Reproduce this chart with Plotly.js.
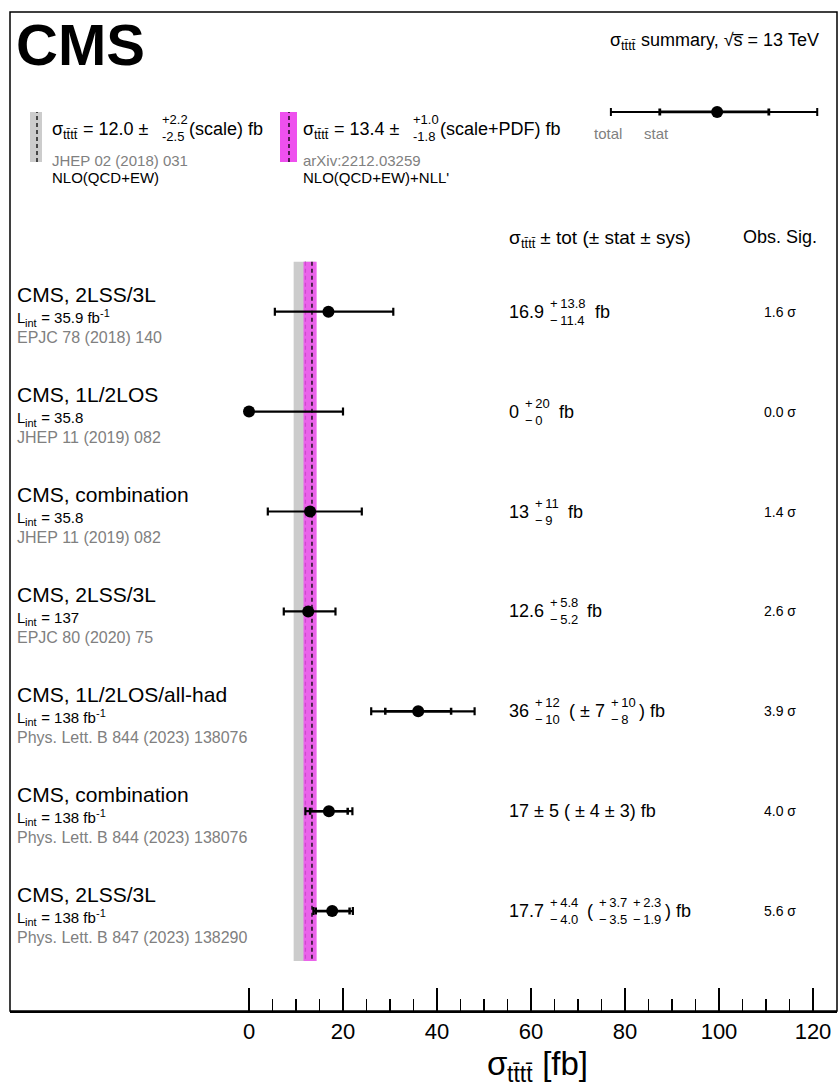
<!DOCTYPE html>
<html><head><meta charset="utf-8">
<script src="https://cdn.plot.ly/plotly-3.0.1.min.js"></script>
<style>body{margin:0;background:#fff}</style>
</head><body><div id="chart" style="width:839px;height:1088px"></div>
<script>
// ---------------- data ----------------
const analyses = ["CMS, 2LSS/3L", "CMS, 1L/2LOS", "CMS, combination", "CMS, 2LSS/3L",
                  "CMS, 1L/2LOS/all-had", "CMS, combination", "CMS, 2LSS/3L"];
const lumiVals = ["35.9", "35.8", "35.8", "137", "138", "138", "138"];
const lumiUnit = [true, false, false, false, true, true, true];
const refs = ["EPJC 78 (2018) 140", "JHEP 11 (2019) 082", "JHEP 11 (2019) 082", "EPJC 80 (2020) 75",
              "Phys. Lett. B 844 (2023) 138076", "Phys. Lett. B 844 (2023) 138076", "Phys. Lett. B 847 (2023) 138290"];
const rowPos = [1, 2, 3, 4, 5, 6, 7];
const xsec   = [16.9, 0, 13, 12.6, 36, 17, 17.7];
const totUp  = [13.8, 20, 11, 5.8, 12, 5, 4.4];
const totDn  = [11.4, 0, 9, 5.2, 10, 5, 4.0];
const statUp = [null, null, null, null, 7, 4, 3.7];
const statDn = [null, null, null, null, 7, 4, 3.5];
const sysUp  = [null, null, null, null, 10, 3, 2.3];
const sysDn  = [null, null, null, null, 8, 3, 1.9];
const prec   = [1, 0, 0, 1, 0, 0, 1];
const obsSig = [1.6, 0.0, 1.4, 2.6, 3.9, 4.0, 5.6];

const theoryCentral = [12.0, 13.4];
const theoryUp = [2.2, 1.0];
const theoryDn = [2.5, 1.8];
const theoryUnc = ["scale", "scale+PDF"];
const theoryRef = ["JHEP 02 (2018) 031", "arXiv:2212.03259"];
const theoryOrder = ["NLO(QCD+EW)", "NLO(QCD+EW)+NLL'"];

const legendX = [99.6], legendY = [-1];
const legendTotUp = [21.3], legendTotDn = [22.6];
const legendStatUp = [11.0], legendStatDn = [12.2];

const xTicks = [0, 20, 40, 60, 80, 100, 120];
const xMinorTicks = [5,10,15,25,30,35,45,50,55,65,70,75,85,90,95,105,110,115];

// ---------------- geometry helpers ----------------
const W = 839, H = 1088, ML = 10, MR = 2, MT = 12, MB = 77;
const PW = W - ML - MR, PH = H - MT - MB;
const YTOP = -2, YBOT = 8;
const px = p => (p - ML) / PW;
const py = p => (H - MB - p) / PH;
const rowPix = v => MT + (v - YTOP) / (YBOT - YTOP) * PH;
const FONT = '"Liberation Sans", Arial, Helvetica, sans-serif';
const TTTT = 't' + 't\u0304' + 't' + 't\u0304';
const SIG = [{ t: 'σ' }, { t: TTTT, sub: true }];
const TS = '\u2009';

const ctx = document.createElement('canvas').getContext('2d');
function tw(t, size, bold) { ctx.font = (bold ? 'bold ' : '') + size + 'px "Liberation Sans"'; return ctx.measureText(t).width; }

const annotations = [];
function ann(text, x, y, size, color, weight) {
  annotations.push({
    text: text.replace(/ /g, '\u00a0'), x: px(x - 2), y: py(y), xref: 'paper', yref: 'paper',
    xanchor: 'left', yanchor: 'middle', showarrow: false,
    font: { family: FONT, size: size, color: color || 'black', weight: weight || 'normal' }
  });
}
function rich(segs, x0, yc, fs, color) {
  let x = x0;
  segs.forEach(s => {
    const size = (s.sub || s.sup) ? Math.round(fs * 0.7) : fs;
    const dy = s.sub ? fs * 0.33 : s.sup ? -fs * 0.3 : 0;
    ann(s.t, x, yc + dy, size, color);
    x += tw(s.t, size);
  });
  return x;
}
function layoutTokens(tokens, x0, yc, mainFs, stackFs, off) {
  const merged = [];
  tokens.forEach(t => {
    const last = merged[merged.length - 1];
    if (t.type === 'text' && last && last.type === 'text') last.text += t.text;
    else merged.push(Object.assign({}, t));
  });
  let x = x0;
  merged.forEach(t => {
    if (t.type === 'text') {
      ann(t.text, x, yc, mainFs);
      x += tw(t.text, mainFs);
    } else {
      ann(t.up, x + 1, yc - off, stackFs);
      ann(t.dn, x + 1, yc + off, stackFs);
      x += Math.max(tw(t.up, stackFs), tw(t.dn, stackFs)) + 5;
    }
  });
}

// ---------------- traces ----------------
const statIdx = rowPos.map((_, i) => i).filter(i => statUp[i] !== null);
const traces = [
  { type: 'scatter', mode: 'markers',
    x: statIdx.map(i => xsec[i]), y: statIdx.map(i => rowPos[i]),
    marker: { size: 1, color: 'rgba(0,0,0,0)' },
    error_x: { type: 'data', symmetric: false, array: statIdx.map(i => statUp[i]),
               arrayminus: statIdx.map(i => statDn[i]), color: 'black', thickness: 2.5, width: 3.5 },
    hoverinfo: 'skip', showlegend: false },
  { type: 'scatter', mode: 'markers', x: xsec, y: rowPos,
    marker: { size: 12, color: 'black' },
    error_x: { type: 'data', symmetric: false, array: totUp, arrayminus: totDn,
               color: 'black', thickness: 2.2, width: 4 },
    showlegend: false },
  { type: 'scatter', mode: 'markers', x: legendX, y: legendY,
    marker: { size: 1, color: 'rgba(0,0,0,0)' },
    error_x: { type: 'data', symmetric: false, array: legendStatUp, arrayminus: legendStatDn,
               color: 'black', thickness: 2.8, width: 3.5 },
    hoverinfo: 'skip', showlegend: false },
  { type: 'scatter', mode: 'markers', x: legendX, y: legendY,
    marker: { size: 12, color: 'black' },
    error_x: { type: 'data', symmetric: false, array: legendTotUp, arrayminus: legendTotDn,
               color: 'black', thickness: 2, width: 4 },
    showlegend: false }
];

// ---------------- shapes ----------------
const GRAY = '#cccccc', MAG = 'rgb(238,80,238)';
const shapes = [
  { type: 'rect', xref: 'x', yref: 'y', x0: theoryCentral[0] - theoryDn[0], x1: theoryCentral[0] + theoryUp[0],
    y0: 0.5, y1: 7.5, fillcolor: GRAY, line: { width: 0 }, layer: 'below' },
  { type: 'line', xref: 'x', yref: 'y', x0: theoryCentral[0], x1: theoryCentral[0], y0: 0.5, y1: 7.5,
    line: { color: '#222', width: 1.3, dash: '4px,3px' }, layer: 'below' },
  { type: 'rect', xref: 'x', yref: 'y', x0: theoryCentral[1] - theoryDn[1], x1: theoryCentral[1] + theoryUp[1],
    y0: 0.5, y1: 7.5, fillcolor: MAG, opacity: 0.85, line: { width: 0 }, layer: 'below' },
  { type: 'line', xref: 'x', yref: 'y', x0: theoryCentral[1], x1: theoryCentral[1], y0: 0.5, y1: 7.5,
    line: { color: 'black', width: 1.3, dash: '4px,3px' }, layer: 'below' },
  { type: 'rect', xref: 'paper', yref: 'paper', x0: 0, x1: 1, y0: 0, y1: 1,
    line: { color: 'black', width: 1.5 } },
  { type: 'rect', xref: 'paper', yref: 'paper', x0: px(30), x1: px(42), y0: py(162), y1: py(112),
    fillcolor: GRAY, line: { width: 0 } },
  { type: 'line', xref: 'paper', yref: 'paper', x0: px(37), x1: px(37), y0: py(162), y1: py(112),
    line: { color: 'black', width: 1.3, dash: '4px,3px' } },
  { type: 'rect', xref: 'paper', yref: 'paper', x0: px(280), x1: px(297), y0: py(162), y1: py(112),
    fillcolor: MAG, line: { width: 0 } },
  { type: 'line', xref: 'paper', yref: 'paper', x0: px(289), x1: px(289), y0: py(162), y1: py(112),
    line: { color: 'black', width: 1.3, dash: '4px,3px' } }
];

// ---------------- texts ----------------
ann('CMS', 16, 44, 58, 'black', 'bold');
rich(SIG.concat([{ t: ' summary, √s\u0305 = 13 TeV' }]), 610, 40, 18);

const theoryX = [52, 303];
theoryX.forEach((x0, k) => {
  let x = rich(SIG.concat([{ t: ' = ' + theoryCentral[k].toFixed(1) + ' ±' }]), x0, 129, 18);
  x += tw(' ', 18) + 9;
  const up = '+' + theoryUp[k].toFixed(1), dn = '-' + theoryDn[k].toFixed(1);
  ann(up, x, 119, 13); ann(dn, x, 137, 13);
  x += Math.max(tw(up, 13), tw(dn, 13)) + 1;
  ann('(' + theoryUnc[k] + ') fb', x, 129, 18);
  ann(theoryRef[k], x0, 161, 15, '#808080');
  ann(theoryOrder[k], x0, 177, 15, 'black');
});
ann('total', 594, 133, 15, '#808080');
ann('stat', 644, 133, 15, '#808080');

rich(SIG.concat([{ t: ' ± tot (± stat ± sys)' }]), 509, 237, 19);
ann('Obs. Sig.', 743, 237, 18);

rowPos.forEach((r, i) => {
  const y0 = rowPix(r);
  ann(analyses[i], 17, y0 - 17, 21);
  const lseg = [{ t: 'L' }, { t: 'int', sub: true }, { t: ' = ' + lumiVals[i] + (lumiUnit[i] ? ' fb' : '') }];
  if (lumiUnit[i]) lseg.push({ t: '-1', sup: true });
  rich(lseg, 17, y0 + 6, 15);
  ann(refs[i], 17, y0 + 26, 16, '#808080');
  const f = v => v.toFixed(prec[i]);
  const tk = [{ type: 'text', text: f(xsec[i]) + ' ' }];
  if (totUp[i] === totDn[i]) tk.push({ type: 'text', text: '± ' + f(totUp[i]) });
  else tk.push({ type: 'stack', up: '+' + TS + f(totUp[i]), dn: '\u2212' + TS + f(totDn[i]) });
  if (statUp[i] !== null) {
    tk.push({ type: 'text', text: ' ( ' });
    const sysSym = sysUp[i] === sysDn[i];
    if (statUp[i] === statDn[i]) tk.push({ type: 'text', text: '± ' + f(statUp[i]) + (sysSym ? '' : ' ') });
    else tk.push({ type: 'stack', up: '+' + TS + f(statUp[i]), dn: '\u2212' + TS + f(statDn[i]) });
    if (sysSym) tk.push({ type: 'text', text: ' ± ' + f(sysUp[i]) });
    else tk.push({ type: 'stack', up: '+' + TS + f(sysUp[i]), dn: '\u2212' + TS + f(sysDn[i]) });
    tk.push({ type: 'text', text: ') fb' });
  } else tk.push({ type: 'text', text: ' fb' });
  layoutTokens(tk, 509, y0, 18, 13, 8.5);
  ann(obsSig[i].toFixed(1) + ' σ', 764, y0, 14);
});

rich(SIG.concat([{ t: ' [fb]' }]), 487, 1063, 33);

const layout = {
  width: W, height: H,
  margin: { l: ML, r: MR, t: MT, b: MB, pad: 0 },
  paper_bgcolor: 'white', plot_bgcolor: 'white',
  font: { family: FONT, color: 'black' },
  xaxis: {
    range: [-(249 - ML) / 4.7, (W - MR - 249) / 4.7],
    tickmode: 'array', tickvals: xTicks, ticktext: xTicks.map(String),
    ticks: 'inside', ticklen: 23, tickwidth: 1.3, tickcolor: 'black',
    showline: true, linecolor: 'black', linewidth: 2,
    showgrid: false, zeroline: false,
    tickfont: { family: FONT, size: 22, color: 'black' },
    minor: { tickmode: 'array', tickvals: xMinorTicks, ticks: 'inside', ticklen: 12,
             tickwidth: 1.1, tickcolor: 'black', showgrid: false },
    fixedrange: true
  },
  yaxis: { range: [YBOT, YTOP], visible: false, showgrid: false, zeroline: false, fixedrange: true },
  shapes: shapes,
  annotations: annotations,
  showlegend: false
};

Plotly.newPlot('chart', traces, layout, { staticPlot: true, displayModeBar: false });
</script>
</body></html>
